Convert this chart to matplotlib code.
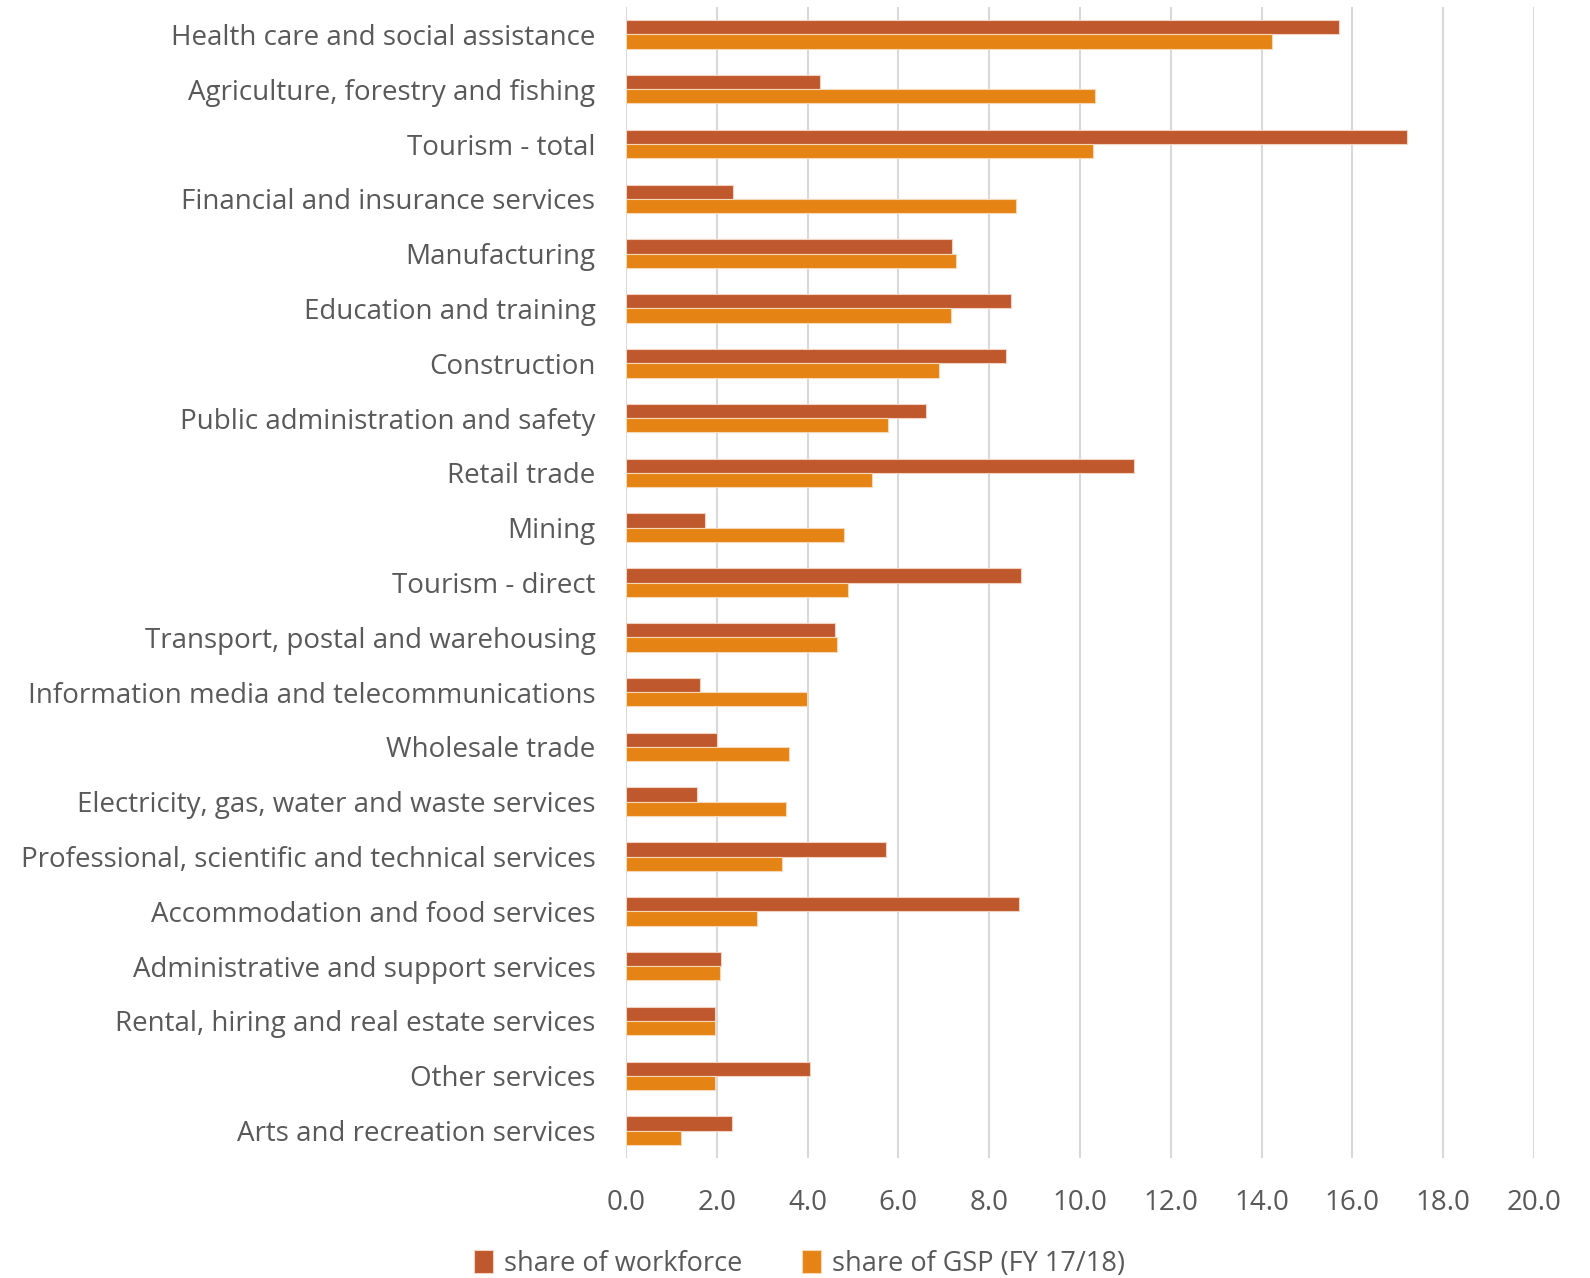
import numpy as np
import matplotlib.pyplot as plt

# industries, top to bottom
industries = [
    "Health care and social assistance",
    "Agriculture, forestry and fishing",
    "Tourism - total",
    "Financial and insurance services",
    "Manufacturing",
    "Education and training",
    "Construction",
    "Public administration and safety",
    "Retail trade",
    "Mining",
    "Tourism - direct",
    "Transport, postal and warehousing",
    "Information media and telecommunications",
    "Wholesale trade",
    "Electricity, gas, water and waste services",
    "Professional, scientific and technical services",
    "Accommodation and food services",
    "Administrative and support services",
    "Rental, hiring and real estate services",
    "Other services",
    "Arts and recreation services",
]
workforce = [15.7, 4.27, 17.2, 2.35, 7.17, 8.49, 8.38, 6.61, 11.2, 1.74, 8.69,
             4.6, 1.63, 2.01, 1.56, 5.72, 8.65, 2.1, 1.97, 4.06, 2.33]
gsp = [14.22, 10.34, 10.28, 8.6, 7.26, 7.15, 6.9, 5.77, 5.41, 4.8, 4.89,
       4.65, 3.98, 3.6, 3.53, 3.44, 2.88, 2.06, 1.97, 1.96, 1.22]
xticks = np.arange(0, 21, 2)

plt.rcParams['font.family'] = ['Open Sans', 'DejaVu Sans']

fig = plt.figure(figsize=(15.9, 12.78), dpi=100)
ax = fig.add_axes([0.3937, 0.0939, 0.5711, 0.9006])

y = np.arange(len(industries))
h = 0.26
ax.barh(y - h / 2, workforce, height=h, color='#BF582C', edgecolor='#F2D3C3',
        linewidth=0.8, label='share of workforce', zorder=3)
ax.barh(y + h / 2, gsp, height=h, color='#E58315', edgecolor='#F7D8B4',
        linewidth=0.8, label='share of GSP (FY 17/18)', zorder=3)

ax.set_ylim(len(industries) - 0.5, -0.5)
ax.set_xlim(0, 20)
ax.set_yticks(y)
ax.set_yticklabels(industries)
ax.set_xticks(xticks)
ax.set_xticklabels([f"{v:.1f}" for v in xticks])
ax.tick_params(axis='both', length=0, labelsize=20, colors='#595959')
ax.tick_params(axis='x', pad=22)
ax.tick_params(axis='y', pad=22)
ax.grid(axis='x', color='#D9D9D9', linewidth=1.5, zorder=0)
for s in ax.spines.values():
    s.set_visible(False)

fig.legend(loc='center', bbox_to_anchor=(0.503, 0.011), ncol=2, frameon=False,
           fontsize=19.5, labelcolor='#595959', handlelength=0.7, handleheight=0.9,
           handletextpad=0.4, columnspacing=2.2)

fig.savefig('out.png', dpi=100)
